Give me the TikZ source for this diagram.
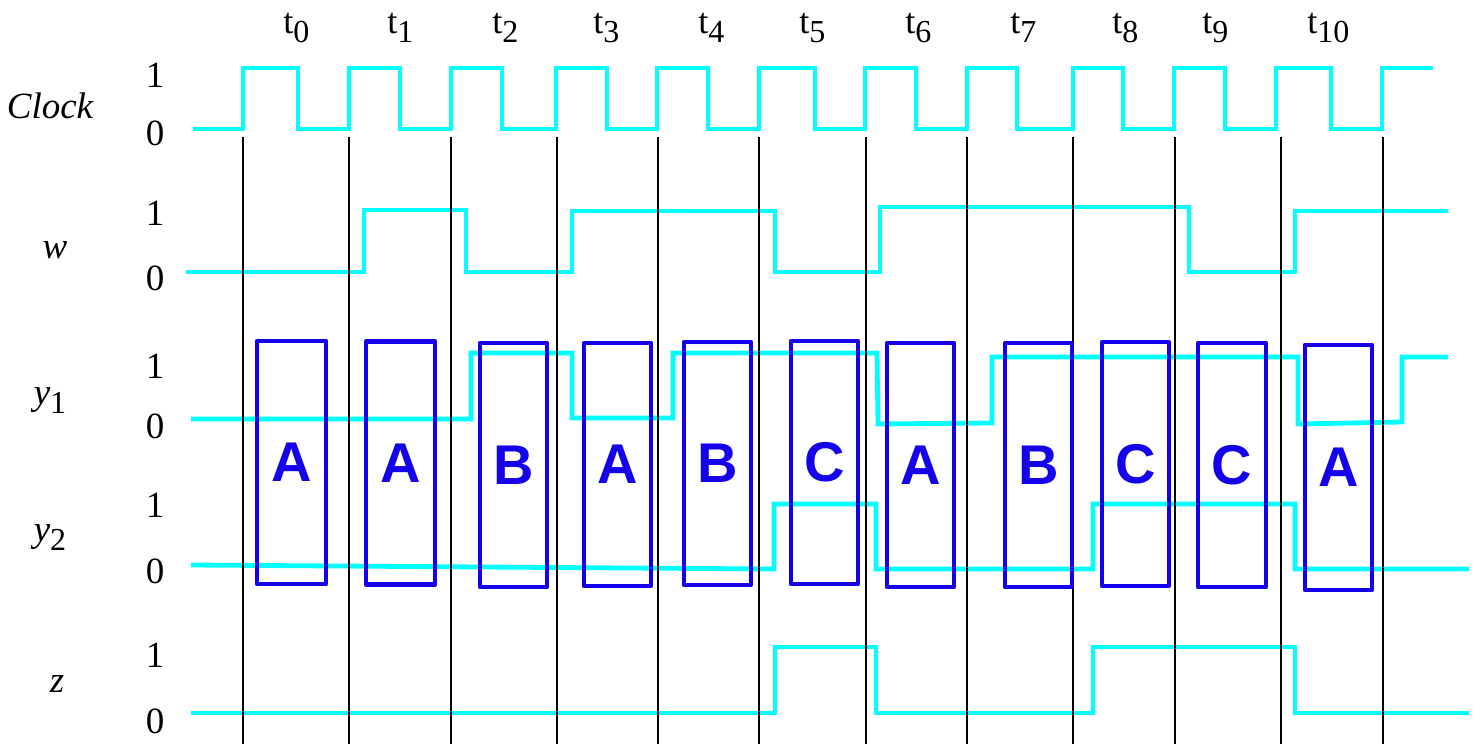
\documentclass[tikz,border=0pt]{standalone}
\usepackage{fontspec}
\setmainfont{Liberation Serif}
\newfontfamily\statefont{Liberation Sans}
\begin{document}
\begin{tikzpicture}[x=0.5pt,y=-0.5pt,
  wave/.style={draw={rgb,255:red,0;green,255;blue,255}, line width=2.4pt},
  grid/.style={draw=black, line width=0.7pt},
  lbl/.style={anchor=base, inner sep=0pt, font=\fontsize{18.5}{20}\selectfont},
  sig/.style={anchor=base, inner sep=0pt, font=\fontsize{18.5}{20}\selectfont\itshape},
  tick/.style={anchor=base west, inner sep=0pt, font=\fontsize{18}{20}\selectfont},
  statebox/.style={draw={rgb,255:red,20;green,0;blue,235}, line width=2.4pt, line join=round,
    text={rgb,255:red,20;green,0;blue,235}, inner sep=0pt, minimum width=33.5pt,
    minimum height=121.5pt, font=\statefont\bfseries\fontsize{28}{30}\selectfont}]
\useasboundingbox (0,0) rectangle (1479,744);
\newcommand\tsb[1]{t\raisebox{-4.5pt}{\fontsize{16}{16}\selectfont #1}}
% time labels
\node[tick] (t0) at (283,33) {\tsb{0}};
\node[tick] (t1) at (387,33) {\tsb{1}};
\node[tick] (t2) at (492,33) {\tsb{2}};
\node[tick] (t3) at (593,33) {\tsb{3}};
\node[tick] (t4) at (698,33) {\tsb{4}};
\node[tick] (t5) at (799,33) {\tsb{5}};
\node[tick] (t6) at (905,33) {\tsb{6}};
\node[tick] (t7) at (1010,33) {\tsb{7}};
\node[tick] (t8) at (1112,33) {\tsb{8}};
\node[tick] (t9) at (1202,33) {\tsb{9}};
\node[tick] (t10) at (1307,33) {\tsb{10}};
% signal names
\node[sig] (nclk) at (50,118) {Clock};
\node[sig] (nw) at (55,258) {w};
\node[sig] (ny1) at (50,404) {y\raisebox{-4.5pt}{\upshape\fontsize{16}{16}\selectfont 1}};
\node[sig] (ny2) at (50,541) {y\raisebox{-4.5pt}{\upshape\fontsize{16}{16}\selectfont 2}};
\node[sig] (nz) at (57,692) {z};
% levels
\node[lbl] (c1) at (155,87) {1};
\node[lbl] (c0) at (155,145) {0};
\node[lbl] (w1) at (155,225) {1};
\node[lbl] (w0) at (155,290) {0};
\node[lbl] (a1) at (155,378) {1};
\node[lbl] (a0) at (155,438) {0};
\node[lbl] (b1) at (155,517) {1};
\node[lbl] (b0) at (155,583) {0};
\node[lbl] (z1) at (155,667) {1};
\node[lbl] (z0) at (155,733) {0};
% waveforms
\draw[wave] (193,129) -- (243,129) -- (243,68) -- (298,68) -- (298,129) -- (349,129) -- (349,68) -- (400,68) -- (400,129) -- (451,129) -- (451,68) -- (502,68) -- (502,129) -- (556,129) -- (556,68) -- (607,68) -- (607,129) -- (657,129) -- (657,68) -- (708,68) -- (708,129) -- (759,129) -- (759,68) -- (815,68) -- (815,129) -- (865,129) -- (865,68) -- (916,68) -- (916,129) -- (967,129) -- (967,68) -- (1017,68) -- (1017,129) -- (1073,129) -- (1073,68) -- (1123,68) -- (1123,129) -- (1174,129) -- (1174,68) -- (1225,68) -- (1225,129) -- (1276,129) -- (1276,68) -- (1331,68) -- (1331,129) -- (1382,129) -- (1382,68) -- (1433,68);
\draw[wave] (186,272) -- (364,272) -- (364,210) -- (466,210) -- (466,272) -- (572,272) -- (572,211) -- (775,211) -- (775,272) -- (880,272) -- (880,207) -- (1189,207) -- (1189,272) -- (1295,272) -- (1295,211) -- (1448,211);
\draw[wave] (191,419) -- (471,419) -- (471,353) -- (572,353) -- (572,418) -- (673,418) -- (673,353) -- (877,353) -- (878,424) -- (992,423) -- (992,357) -- (1298,357) -- (1298,424) -- (1402,422) -- (1402,357) -- (1448,357);
\draw[wave] (191,565) -- (774,569) -- (774,504) -- (876,504) -- (876,569) -- (1093,569) -- (1093,504) -- (1295,504) -- (1295,569) -- (1469,569);
\draw[wave] (191,713) -- (775,713) -- (775,647) -- (876,647) -- (876,713) -- (1093,713) -- (1093,647) -- (1295,647) -- (1295,713) -- (1469,713);
% clock edge lines
\foreach \x in {243,349,451,557,658,759,866,967,1073,1175,1281,1383}
  \draw[grid] (\x,137) -- (\x,744);
% state boxes
\node[statebox, minimum width=34.5pt] (s0) at (291.5,462.5) {A};
\node[statebox, minimum width=34.5pt] (s1) at (400.5,463) {A};
\node[statebox, minimum height=122pt] (s2) at (513.5,465) {B};
\node[statebox] (s3) at (617.5,464.5) {A};
\node[statebox] (s4) at (717.5,463.5) {B};
\node[statebox] (s5) at (824.5,462.5) {C};
\node[statebox, minimum height=122pt] (s6) at (920.5,465) {A};
\node[statebox, minimum height=122pt] (s7) at (1038.5,465) {B};
\node[statebox, minimum height=122pt] (s8) at (1135.5,464) {C};
\node[statebox, minimum width=34pt, minimum height=122pt] (s9) at (1232,465) {C};
\node[statebox, minimum height=122.5pt] (s10) at (1338.5,467.5) {A};
\end{tikzpicture}
\end{document}
